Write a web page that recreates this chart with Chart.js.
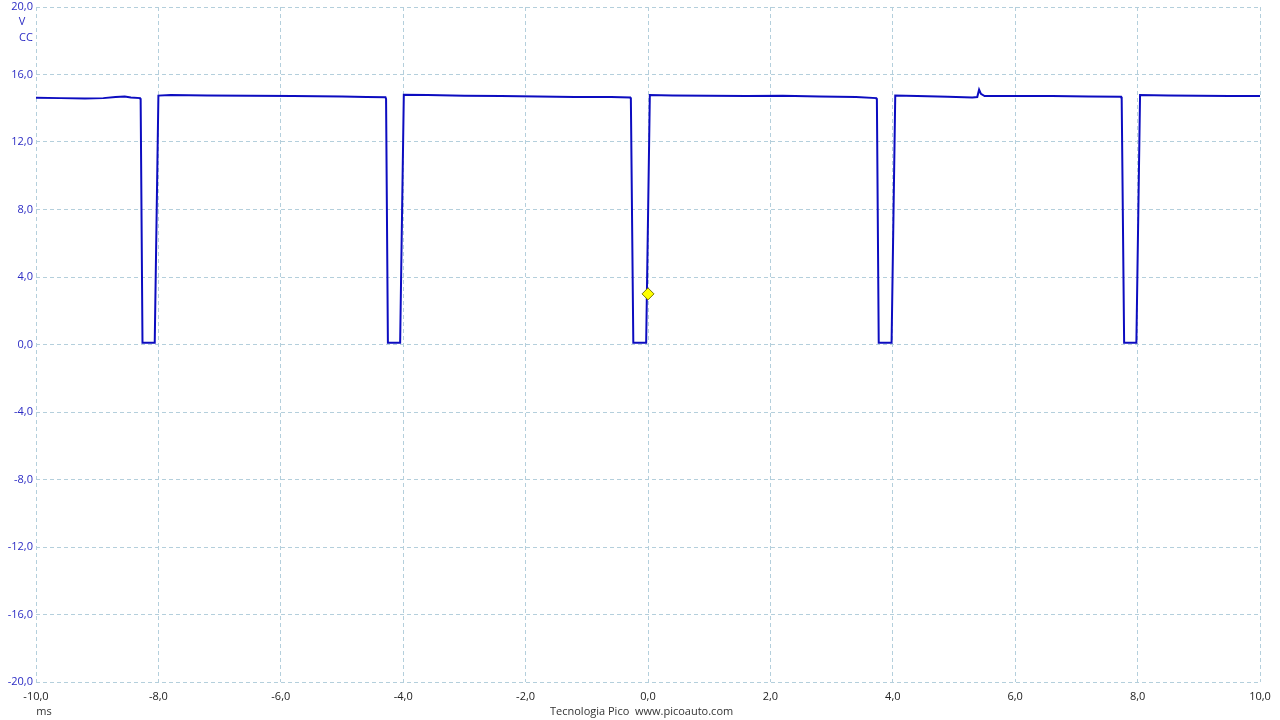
<html>
<head>
<title>Pico scope trace</title>
<style>
  body { margin: 0; background: #fff; }
  #wrap { width: 1280px; height: 720px; }
</style>
</head>
<body>
<div id="wrap">
  <canvas id="scope" width="1280" height="720"></canvas>
</div>
<script src="https://cdn.jsdelivr.net/npm/chart.js@4"></script>
<script>
// time in ms, voltage in V
var timeMs = [
  -10.0, -9.6, -9.2, -8.9, -8.7, -8.55, -8.45, -8.30,
  -8.29, -8.26, -8.06, -8.00,
  -7.8, -7.2, -6.5, -5.8, -5.0, -4.6, -4.29,
  -4.28, -4.25, -4.05, -3.99,
  -3.6, -3.0, -2.4, -1.8, -1.2, -0.6, -0.29,
  -0.28, -0.24, -0.03, 0.03,
  0.4, 1.0, 1.6, 2.2, 2.8, 3.4, 3.73,
  3.74, 3.77, 3.98, 4.04,
  4.4, 4.9, 5.3, 5.38, 5.41, 5.44, 5.50, 6.0, 6.6, 7.2, 7.73,
  7.74, 7.78, 7.98, 8.04,
  8.5, 9.0, 9.5, 10.0
];
var volts = [
  14.62, 14.60, 14.58, 14.60, 14.66, 14.70, 14.64, 14.60,
  14.50, 0.1, 0.1, 14.75,
  14.78, 14.75, 14.74, 14.72, 14.70, 14.67, 14.65,
  14.55, 0.1, 0.1, 14.80,
  14.78, 14.74, 14.72, 14.70, 14.66, 14.66, 14.64,
  14.55, 0.1, 0.1, 14.78,
  14.76, 14.74, 14.72, 14.74, 14.70, 14.66, 14.60,
  14.50, 0.1, 0.1, 14.75,
  14.72, 14.68, 14.64, 14.66, 15.10, 14.85, 14.72, 14.72, 14.72, 14.70, 14.68,
  14.55, 0.1, 0.1, 14.78,
  14.75, 14.74, 14.72, 14.73
];
var triggerPoint = [{ x: 0.0, y: 3.0 }];

var xTicks = [-10, -8, -6, -4, -2, 0, 2, 4, 6, 8, 10];
var yTicks = [-20, -16, -12, -8, -4, 0, 4, 8, 12, 16, 20];

var trace = [];
for (var i = 0; i < timeMs.length; i++) {
  trace.push({ x: timeMs[i], y: volts[i] });
}

function fmt(v) {
  return v.toFixed(1).replace('.', ',');
}

var uiFont = { family: 'Open Sans', size: 11 };
var gridStyle = {
  color: '#b4cfdc',
  lineWidth: 1,
  drawTicks: false
};

// extra labels: units and footer
var labelsPlugin = {
  id: 'picoLabels',
  afterDraw: function (chart) {
    var c = chart.ctx;
    c.save();
    c.font = '11px "Open Sans"';
    c.textBaseline = 'middle';
    c.textAlign = 'center';
    c.fillStyle = '#2b2bc4';
    c.fillText('V', 22, 22);
    c.fillText('CC', 26, 38);
    c.fillStyle = '#333';
    c.fillText('ms', 44, 712);
    c.textAlign = 'left';
    c.fillText('Tecnologia Pico  www.picoauto.com', 550, 712);
    c.restore();
  }
};

var ctx = document.getElementById('scope').getContext('2d');
var chart = new Chart(ctx, {
  type: 'line',
  data: {
    datasets: [
      {
        label: 'Trigger',
        data: triggerPoint,
        showLine: false,
        pointStyle: 'rectRot',
        pointRadius: 6,
        pointBackgroundColor: '#ffff00',
        pointBorderColor: '#7a7a00',
        pointBorderWidth: 1
      },
      {
        label: 'Canal A',
        data: trace,
        borderColor: '#0c0cc0',
        borderWidth: 2,
        pointRadius: 0,
        tension: 0,
        fill: false
      }
    ]
  },
  options: {
    responsive: false,
    animation: false,
    layout: { padding: { top: 5, right: 20, left: 0, bottom: 0 } },
    plugins: {
      legend: { display: false },
      tooltip: { enabled: false }
    },
    scales: {
      x: {
        type: 'linear',
        min: -10,
        max: 10,
        border: { display: false, dash: [4, 3] },
        grid: gridStyle,
        afterBuildTicks: function (s) {
          s.ticks = xTicks.map(function (v) { return { value: v }; });
        },
        afterFit: function (s) {
          s.height = 38;
          s.paddingLeft = 0;
          s.paddingRight = 0;
        },
        ticks: {
          font: uiFont,
          color: '#222',
          padding: 8,
          maxRotation: 0,
          callback: function (v) { return fmt(v); }
        }
      },
      y: {
        min: -20,
        max: 20,
        border: { display: false, dash: [4, 3] },
        grid: gridStyle,
        afterBuildTicks: function (s) {
          s.ticks = yTicks.map(function (v) { return { value: v }; });
        },
        afterFit: function (s) {
          s.width = 36;
          s.paddingTop = 0;
          s.paddingBottom = 0;
        },
        ticks: {
          font: uiFont,
          color: '#2b2bc4',
          padding: 3,
          callback: function (v) { return fmt(v); }
        }
      }
    }
  },
  plugins: [labelsPlugin]
});
</script>
</body>
</html>
